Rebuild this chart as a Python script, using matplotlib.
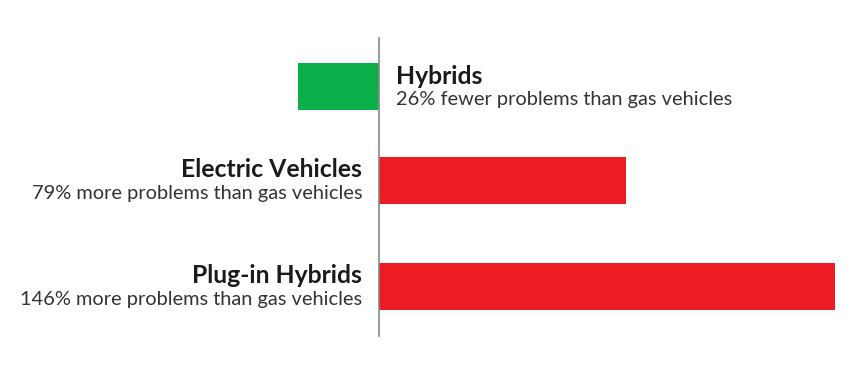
import matplotlib as mpl
mpl.use('Agg')
import matplotlib.pyplot as plt

categories = ['Hybrids', 'Electric Vehicles', 'Plug-in Hybrids']
values = [-26, 79, 146]
notes = ['26% fewer problems than gas vehicles',
         '79% more problems than gas vehicles',
         '146% more problems than gas vehicles']

green = '#0cb04a'
red = '#ed1c24'
colors = [green if v < 0 else red for v in values]

# layout (pixel-like units, y grows downward)
ypos = [86.5, 180, 286]
scale = 3.123

plt.rcParams['font.family'] = ['Lato', 'DejaVu Sans']

fig = plt.figure(figsize=(8.52, 3.66), dpi=100)
ax = fig.add_axes([0, 0, 1, 1])
ax.set_xlim(-379 / scale, (852 - 379) / scale)
ax.set_ylim(366, 0)
ax.axis('off')

ax.barh(ypos, values, height=47, color=colors)
ax.plot([0, 0], [38, 336], color='#888888', lw=1.2)

pad = 17 / scale
for y, cat, v, note in zip(ypos, categories, values, notes):
    if v < 0:
        x, ha = pad, 'left'
    else:
        x, ha = -pad, 'right'
    ax.text(x, y - 3, cat, ha=ha, va='baseline', fontsize=17.8,
            fontweight='bold', color='#1a1a1a')
    ax.text(x, y + 19, note, ha=ha, va='baseline', fontsize=14.4,
            color='#333333')

fig.savefig('out.png', dpi=100)
